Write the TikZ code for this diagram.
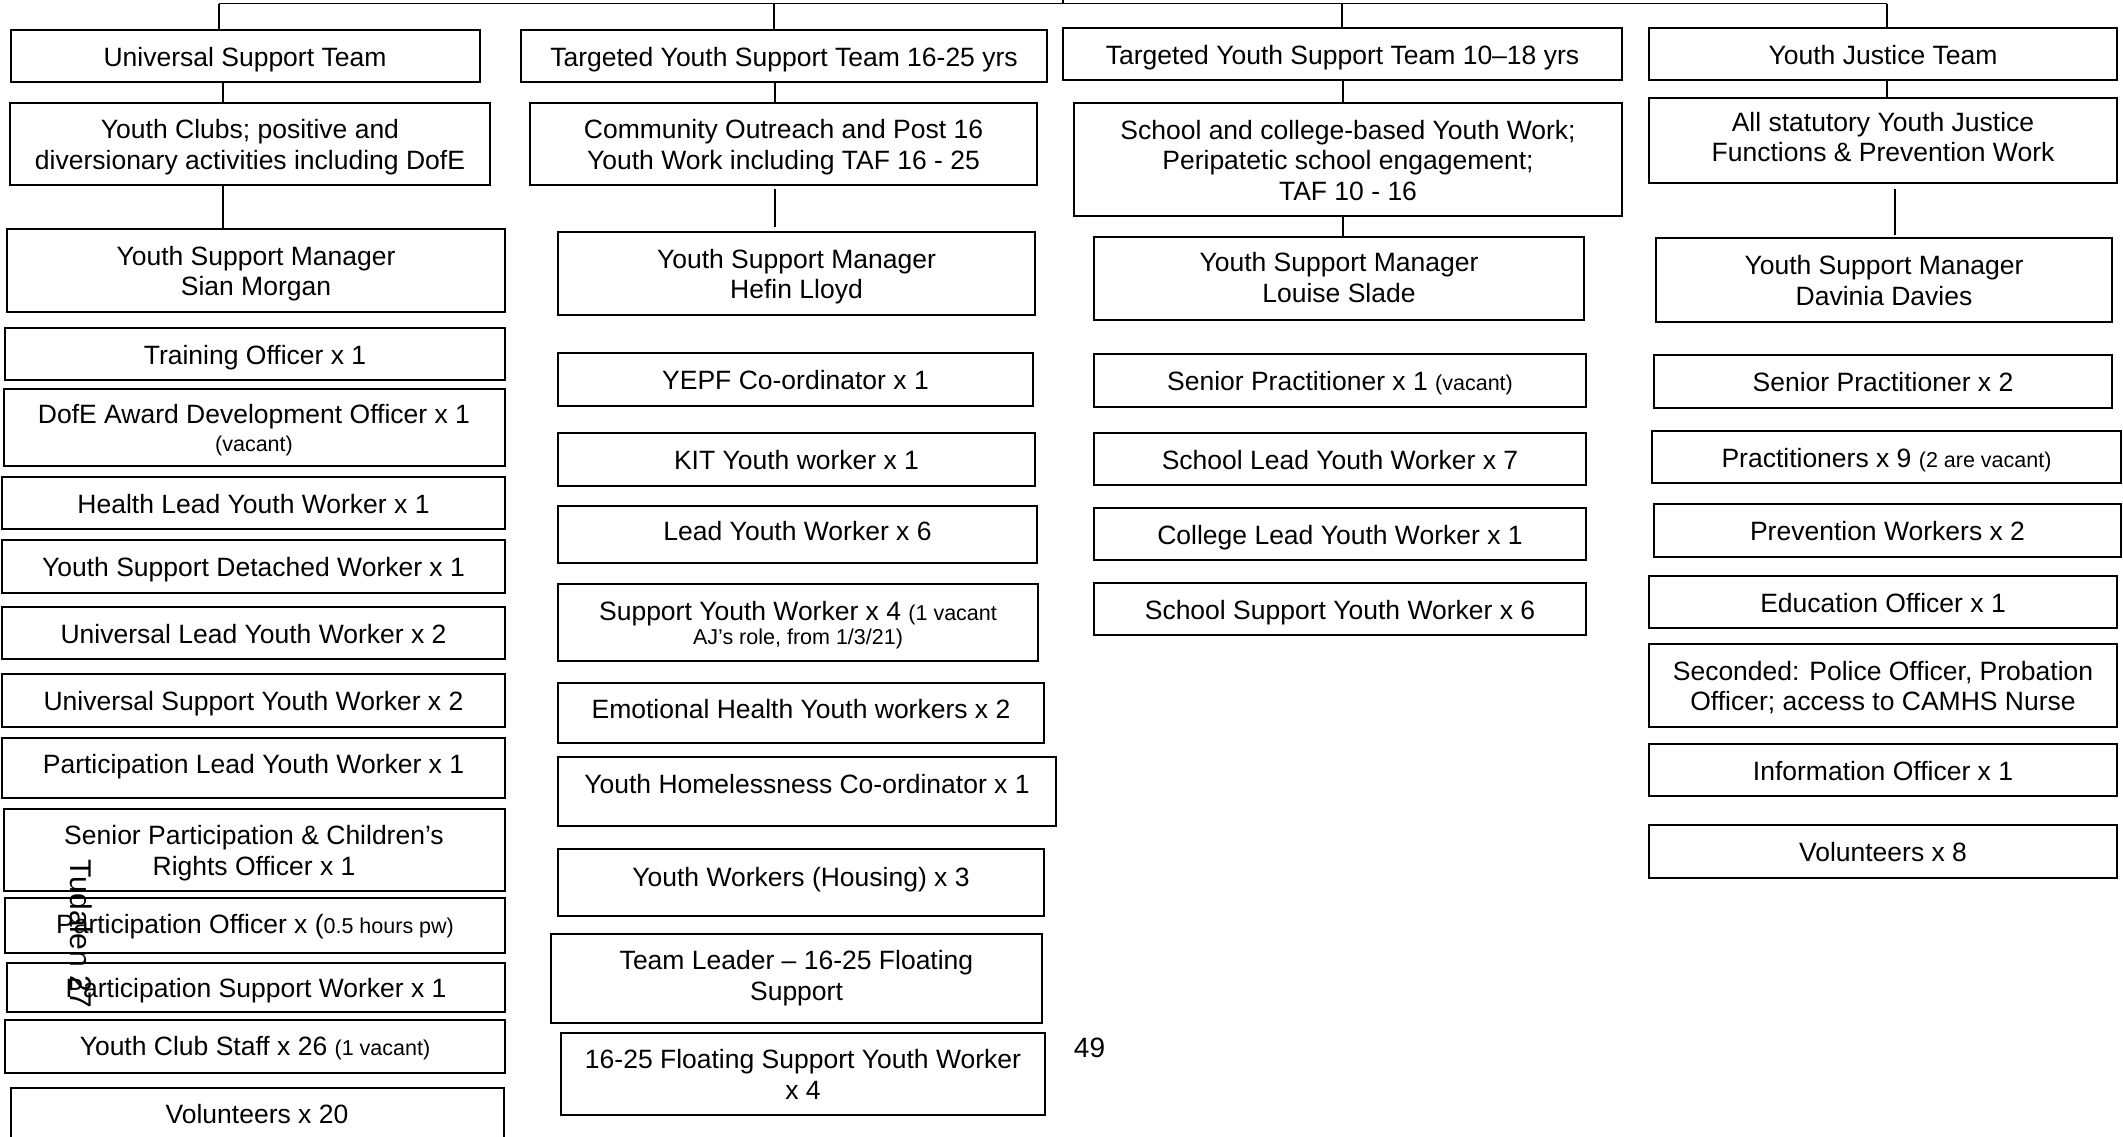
\documentclass[tikz,border=0pt]{standalone}
\usepackage{fontspec}
\setmainfont{Liberation Sans}
\newcommand\mainsz{\fontsize{26.5}{30.5}\selectfont}
\newcommand\smsz{\fontsize{21.5}{25}\selectfont}
\newcommand\tp{\rule{0pt}{26pt}}
\newcommand\bt[1][6pt]{\rule[-#1]{0pt}{#1}}
\begin{document}
\begin{tikzpicture}[x=1pt,y=-1pt,
  bx/.style={draw=black,line width=2pt,align=center,inner sep=0pt,font=\mainsz},
  conn/.style={line width=1.3pt},
  side/.style={font=\fontsize{30}{34}\selectfont}]
\useasboundingbox (0,0) rectangle (2123,1136);
% ---------- column 1
\node[bx,minimum width=469pt,minimum height=52pt] (ust) at (245,56) {\tp Universal Support Team\bt};
\node[bx,minimum width=480pt,minimum height=82pt] (yc) at (250,144) {\tp Youth Clubs; positive and\\diversionary activities including DofE\bt};
\node[bx,minimum width=498pt,minimum height=83pt] (ysma) at (256,270.5) {\tp Youth Support Manager\\Sian Morgan\bt};
\node[bx,minimum width=500pt,minimum height=52pt] (to) at (255,354) {\tp Training Officer x 1\bt};
\node[bx,minimum width=501pt,minimum height=77pt] (dofe) at (254,427.5) {\tp DofE Award Development Officer x 1\\[-3pt]{\smsz (vacant)}\bt};
\node[bx,minimum width=503pt,minimum height=52pt] (hl) at (253.5,503) {\tp Health Lead Youth Worker x 1\bt};
\node[bx,minimum width=503pt,minimum height=53pt] (ysd) at (253.5,566.5) {\tp Youth Support Detached Worker x 1\bt};
\node[bx,minimum width=503pt,minimum height=52pt] (ul) at (253.5,633) {\tp Universal Lead Youth Worker x 2\bt};
\node[bx,minimum width=503pt,minimum height=53pt] (us) at (253.5,700.5) {\tp Universal Support Youth Worker x 2\bt};
\node[bx,minimum width=503pt,minimum height=60pt] (pl) at (253.5,768) {\tp Participation Lead Youth Worker x 1\bt[16pt]};
\node[bx,minimum width=501pt,minimum height=82pt] (spc) at (254,850) {\tp Senior Participation \& Children’s\\Rights Officer x 1\bt};
\node[bx,minimum width=500pt,minimum height=55pt] (po) at (255,925.5) {\tp Participation Officer x ({\smsz 0.5 hours pw)}\bt[11pt]};
\node[bx,minimum width=498pt,minimum height=49pt] (psw) at (256,987.5) {\tp Participation Support Worker x 1\bt};
\node[bx,minimum width=500pt,minimum height=53pt] (ycs) at (255,1046.5) {\tp Youth Club Staff x 26 {\smsz (1 vacant)}\bt[9pt]};
\node[bx,minimum width=493pt,minimum height=50pt] (vola) at (257,1113) {\tp Volunteers x 20\bt};
% ---------- column 2
\node[bx,minimum width=526pt,minimum height=52pt] (tyo) at (784,56) {\tp Targeted Youth Support Team 16-25 yrs\bt};
\node[bx,minimum width=507pt,minimum height=82pt] (co) at (783.5,144) {\tp Community Outreach and Post 16\\Youth Work including TAF 16 - 25\bt};
\node[bx,minimum width=477pt,minimum height=83pt] (ysmb) at (796.5,273.5) {\tp Youth Support Manager\\Hefin Lloyd\bt};
\node[bx,minimum width=475pt,minimum height=53pt] (yepf) at (795.5,379.5) {\tp YEPF Co-ordinator x 1\bt};
\node[bx,minimum width=477pt,minimum height=53pt] (kit) at (796.5,459.5) {\tp KIT Youth worker x 1\bt};
\node[bx,minimum width=479pt,minimum height=57pt] (lyw) at (797.5,534.5) {\tp Lead Youth Worker x 6\bt[14pt]};
\node[bx,minimum width=480pt,minimum height=77pt] (syw) at (798,622.5) {\tp Support Youth Worker x 4 {\smsz (1 vacant}\\[-6pt]{\smsz AJ’s role, from 1/3/21)}\bt};
\node[bx,minimum width=486pt,minimum height=60pt] (eh) at (801,713) {\tp Emotional Health Youth workers x 2\bt[15pt]};
\node[bx,minimum width=498pt,minimum height=69pt] (yh) at (807,791.5) {\tp Youth Homelessness Co-ordinator x 1\bt[22pt]};
\node[bx,minimum width=486pt,minimum height=67pt] (ywh) at (801,882.5) {\tp Youth Workers (Housing) x 3\bt[18pt]};
\node[bx,minimum width=491pt,minimum height=89pt] (tl) at (796.5,978.5) {\tp Team Leader – 16-25 Floating\\Support\bt[13pt]};
\node[bx,minimum width=484pt,minimum height=82pt] (fs) at (803,1074) {\tp 16-25 Floating Support Youth Worker\\x 4\bt};
% ---------- column 3
\node[bx,minimum width=559pt,minimum height=52pt] (tyt) at (1342.5,54) {\tp Targeted Youth Support Team 10–18 yrs\bt};
\node[bx,minimum width=548pt,minimum height=113pt] (sc) at (1348,159.5) {\tp School and college-based Youth Work;\\Peripatetic school engagement;\\TAF 10 - 16\bt};
\node[bx,minimum width=490pt,minimum height=83pt] (ysmc) at (1339,278.5) {\tp Youth Support Manager\\Louise Slade\bt[9pt]};
\node[bx,minimum width=492pt,minimum height=53pt] (sprc) at (1340,380.5) {\tp Senior Practitioner x 1 {\smsz (vacant)}\bt};
\node[bx,minimum width=492pt,minimum height=52pt] (sl) at (1340,459) {\tp School Lead Youth Worker x 7\bt};
\node[bx,minimum width=492pt,minimum height=52pt] (cl) at (1340,534) {\tp College Lead Youth Worker x 1\bt};
\node[bx,minimum width=492pt,minimum height=52pt] (ssw) at (1340,609) {\tp School Support Youth Worker x 6\bt};
% ---------- column 4
\node[bx,minimum width=468pt,minimum height=52pt] (yjt) at (1883,54) {\tp Youth Justice Team\bt};
\node[bx,minimum width=468pt,minimum height=85pt] (asy) at (1883,140.5) {\tp All statutory Youth Justice\\Functions \& Prevention Work\bt[13.6pt]};
\node[bx,minimum width=456pt,minimum height=84pt] (ysmd) at (1884,280) {\tp Youth Support Manager\\Davinia Davies\bt};
\node[bx,minimum width=458pt,minimum height=53pt] (sprd) at (1883,381.5) {\tp Senior Practitioner x 2\bt};
\node[bx,minimum width=469pt,minimum height=52pt] (pr) at (1886.5,457) {\tp Practitioners x 9 {\smsz (2 are vacant)}\bt};
\node[bx,minimum width=467pt,minimum height=53pt] (pw) at (1887.5,530.5) {\tp Prevention Workers x 2\bt};
\node[bx,minimum width=468pt,minimum height=52pt] (eo) at (1883,602) {\tp Education Officer x 1\bt};
\node[bx,minimum width=468pt,minimum height=83pt] (sec) at (1883,685.5) {\tp Seconded: Police Officer, Probation\\Officer; access to CAMHS Nurse\bt};
\node[bx,minimum width=468pt,minimum height=52pt] (io) at (1883,770) {\tp Information Officer x 1\bt};
\node[bx,minimum width=468pt,minimum height=53pt] (vold) at (1883,851.5) {\tp Volunteers x 8\bt};
% ---------- loose texts
\node[font=\fontsize{28}{32}\selectfont,inner sep=0pt] (pg) at (1089.5,1047.5) {49};
\node[side,rotate=-90,inner sep=0pt] (tud) at (81,934) {Tudalen 27};
% ---------- connectors
\coordinate (busa) at (219,3.5);
\coordinate (busb) at (774,3.5);
\coordinate (busc) at (1342,3.5);
\coordinate (busd) at (1887,3.5);
\coordinate (busup) at (1063,-10);
\draw[conn] (busa) -- (busd);
\draw[conn] (busup) -- (busup |- busa);
\draw[conn] (busa) -- (ust.north -| busa);
\draw[conn] (busb) -- (tyo.north -| busb);
\draw[conn] (busc) -- (tyt.north -| busc);
\draw[conn] (busd) -- (yjt.north -| busd);
\coordinate (ca) at (223,0);
\coordinate (cb) at (775,0);
\coordinate (cc) at (1343,0);
\coordinate (cd) at (1887,0);
\coordinate (ce) at (1895,0);
\draw[conn] (ust.south -| ca) -- (yc.north -| ca);
\draw[conn] (yc.south -| ca) -- (ysma.north -| ca);
\draw[conn] (tyo.south -| cb) -- (co.north -| cb);
\draw[conn,shorten <=3pt,shorten >=4pt] (co.south -| cb) -- (ysmb.north -| cb);
\draw[conn] (tyt.south -| cc) -- (sc.north -| cc);
\draw[conn] (sc.south -| cc) -- (ysmc.north -| cc);
\draw[conn] (yjt.south -| cd) -- (asy.north -| cd);
\draw[conn,shorten <=5pt,shorten >=2pt] (asy.south -| ce) -- (ysmd.north -| ce);
\end{tikzpicture}
\end{document}
